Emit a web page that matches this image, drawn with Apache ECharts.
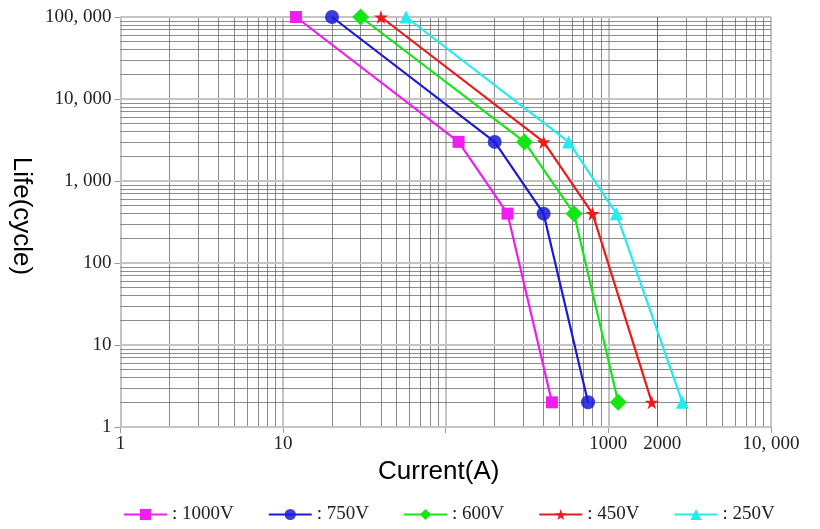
<!DOCTYPE html>
<html>
<head>
<meta charset="utf-8">
<script src="https://cdn.jsdelivr.net/npm/echarts@6/dist/echarts.min.js"></script>
<style>html,body{margin:0;padding:0;background:#fff}#c{width:820px;height:529px}</style>
</head>
<body>
<div id="c"></div>
<script>
// ---- data ----
const seriesNames = ['1000V', '750V', '600V', '450V', '250V'];
const v1000 = [[12, 100000], [120, 3000], [240, 400], [450, 2]];
const v750  = [[20, 100000], [200, 3000], [400, 400], [750, 2]];
const v600  = [[30, 100000], [305, 3000], [615, 400], [1150, 2]];
const v450  = [[40, 100000], [400, 3000], [800, 400], [1850, 2]];
const v250  = [[57, 100000], [570, 3000], [1120, 400], [2850, 2]];
const xTickLabels = {1: '1', 10: '10', 1000: '1000', 10000: '10, 000'};
const yTickLabels = {1: '1', 10: '10', 100: '100', 1000: '1, 000', 10000: '10, 000', 100000: '100, 000'};
const xExtraLabel = 2000;

// ---- grid line values (log paper) ----
function minorVals(fromDecade, toDecade) {
  const out = [];
  for (let d = fromDecade; d < toDecade; d++) {
    for (let k = 2; k <= 9; k++) out.push(k * Math.pow(10, d));
  }
  return out;
}
function majorVals(fromDecade, toDecade) {
  const out = [];
  for (let d = fromDecade; d <= toDecade; d++) out.push(Math.pow(10, d));
  return out;
}
const minorStyle = {color: '#5a5a5a', width: 0.7, type: 'solid'};
const majorStyle = {color: '#c4c4c4', width: 2, type: 'solid'};
const gridLines = [];
minorVals(0, 4).forEach(v => gridLines.push({xAxis: v, lineStyle: minorStyle}));
majorVals(0, 4).forEach(v => gridLines.push({xAxis: v, lineStyle: majorStyle}));
minorVals(0, 5).forEach(v => gridLines.push({yAxis: v, lineStyle: minorStyle}));
majorVals(0, 5).forEach(v => gridLines.push({yAxis: v, lineStyle: majorStyle}));
gridLines.push({
  xAxis: xExtraLabel, lineStyle: minorStyle,
  label: {show: true, position: 'start', formatter: String(xExtraLabel), distance: 8, offset: [5, 0],
          fontFamily: 'Liberation Serif', fontSize: 19, color: '#222'}
});

const starPath = 'path://M50,0 L61,35 L98,35 L68,57 L79,91 L50,70 L21,91 L32,57 L2,35 L39,35 Z';
const styles = [
  {color: '#f01cf0', symbol: 'rect', size: 12, data: v1000},
  {color: '#1a1ad8', symbol: 'circle', size: 14, data: v750},
  {color: '#14e614', symbol: 'diamond', size: 17, data: v600},
  {color: '#ee1a1a', symbol: starPath, size: 14, data: v450},
  {color: '#22ecec', symbol: 'triangle', size: 13, data: v250}
];

const series = [{
  type: 'line', data: [], silent: true, z: 1,
  markLine: {silent: true, symbol: 'none', animation: false, label: {show: false}, data: gridLines}
}];
styles.forEach((s, i) => series.push({
  name: seriesNames[i], type: 'line', z: 5,
  data: s.data, symbol: s.symbol, symbolSize: s.size, showSymbol: true,
  lineStyle: {color: s.color, width: 2.2},
  itemStyle: {color: s.color, opacity: i === 1 ? 0.85 : 1},
  animation: false
}));

const chart = echarts.init(document.getElementById('c'));
chart.setOption({
  backgroundColor: '#fff',
  animation: false,
  grid: {left: 119, right: 49, top: 17, bottom: 102},
  xAxis: {
    type: 'log', logBase: 10, min: 1, max: 10000, interval: 1,
    name: 'Current(A)', nameLocation: 'middle', nameGap: 20,
    nameTextStyle: {fontFamily: 'Liberation Sans', fontSize: 26, color: '#000', padding: [0, 14, 0, 0]},
    axisLine: {show: true, lineStyle: {color: '#c4c4c4', width: 2}},
    axisTick: {show: true, length: 6, lineStyle: {color: '#999'}},
    splitLine: {show: false},
    minorTick: {show: false}, minorSplitLine: {show: false},
    axisLabel: {margin: 8, fontFamily: 'Liberation Serif', fontSize: 19, color: '#222',
      formatter: v => xTickLabels[Math.round(v)] || ''}
  },
  yAxis: {
    type: 'log', logBase: 10, min: 1, max: 100000, interval: 1,
    name: 'Life(cycle)', nameLocation: 'middle', nameGap: 75, nameRotate: -90,
    nameTextStyle: {fontFamily: 'Liberation Sans', fontSize: 26, color: '#000', padding: [0, 12, 0, 0]},
    axisLine: {show: true, lineStyle: {color: '#c4c4c4', width: 2}},
    axisTick: {show: true, length: 6, lineStyle: {color: '#999'}},
    splitLine: {show: false},
    axisLabel: {margin: 9, fontFamily: 'Liberation Serif', fontSize: 19, color: '#222',
      formatter: v => yTickLabels[Math.round(v)] || ''}
  },
  legend: {
    data: seriesNames, left: 118, bottom: 0, itemGap: 34, itemWidth: 43, itemHeight: 14,
    formatter: n => ': ' + n,
    textStyle: {fontFamily: 'Liberation Serif', fontSize: 19, color: '#222'}
  },
  series: series
});
</script>
</body>
</html>
